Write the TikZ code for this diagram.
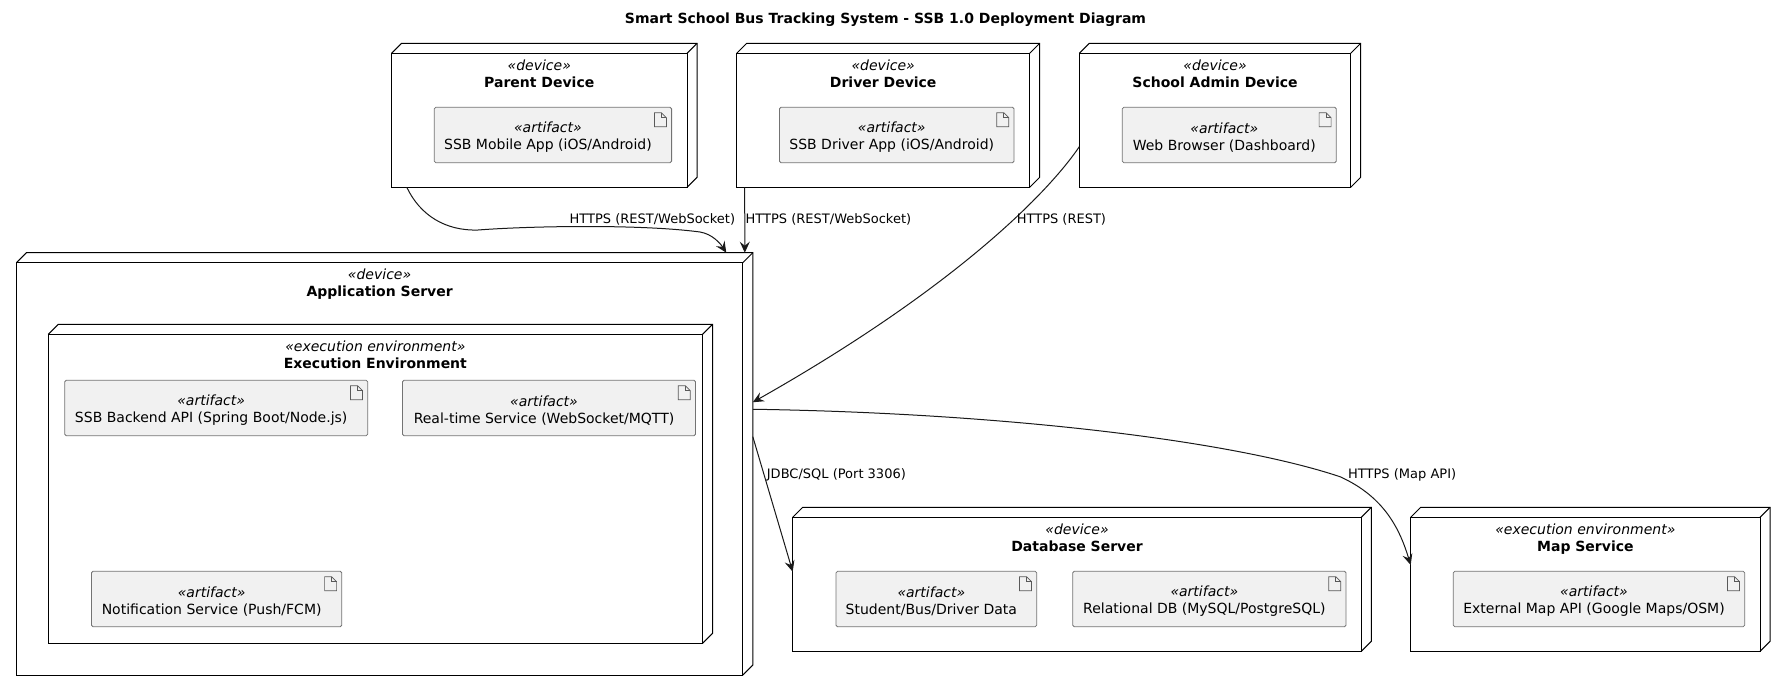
\documentclass[tikz,border=0pt]{standalone}
\usepackage{fontspec}
\setmainfont{DejaVu Sans}
\usetikzlibrary{arrows.meta}
\tikzset{
  x=1pt,y=-1pt,
  textfont/.style={font=\fontsize{14}{17}\selectfont,text=black},
  nodebox/.style={draw=black,line width=1pt,anchor=north west,inner sep=0pt,outer sep=0pt},
  boxtitle/.style={textfont,align=center,anchor=north,inner sep=0pt,yshift=-6pt},
  artifactbox/.style={draw=black!55,line width=0.8pt,fill=artifactgray,rounded corners=1.5pt,
    anchor=north west,inner sep=0pt,outer sep=0pt,minimum height=55.4pt},
  artifacttext/.style={textfont,align=center,inner sep=0pt,xshift=-5pt,yshift=-2.5pt},
  linktext/.style={font=\fontsize{13}{16}\selectfont,text=black,anchor=west,inner sep=0pt},
  link/.style={line width=1pt,draw=black!90,-{Stealth[length=11pt,width=10pt,inset=4pt]}}
}
\definecolor{artifactgray}{HTML}{F1F1F1}
\begin{document}
\begin{tikzpicture}
\useasboundingbox (0,0) rectangle (1785,691);
\node (title) [font=\fontsize{14}{17}\selectfont\bfseries,inner sep=0pt] at (885.5,20) {Smart School Bus Tracking System - SSB 1.0 Deployment Diagram};
% devices on top
\node (parent) [nodebox,minimum width=295.5pt,minimum height=134pt,label={[boxtitle]north:{\textit{«device»}\\\textbf{Parent Device}}}] at (391.5,53.3) {};
\node (driver) [nodebox,minimum width=293pt,minimum height=134pt,label={[boxtitle]north:{\textit{«device»}\\\textbf{Driver Device}}}] at (736.7,53.3) {};
\node (admin) [nodebox,minimum width=271.4pt,minimum height=134pt,label={[boxtitle]north:{\textit{«device»}\\\textbf{School Admin Device}}}] at (1079.3,53.3) {};
\node (mobileapp) [artifactbox,minimum width=237.3pt,label={[artifacttext]center:{\textit{«artifact»}\\SSB Mobile App (iOS/Android)}}] at (434.3,107.3) {};
\node (driverapp) [artifactbox,minimum width=234.5pt,label={[artifacttext]center:{\textit{«artifact»}\\SSB Driver App (iOS/Android)}}] at (779.5,107.3) {};
\node (browser) [artifactbox,minimum width=214pt,label={[artifacttext]center:{\textit{«artifact»}\\Web Browser (Dashboard)}}] at (1122.3,107.3) {};
% application server
\node (appserver) [nodebox,minimum width=726.4pt,minimum height=412.3pt,label={[boxtitle]north:{\textit{«device»}\\\textbf{Application Server}}}] at (16.4,262.7) {};
\node (execenv) [nodebox,minimum width=654.2pt,minimum height=309pt,label={[boxtitle]north:{\textit{«execution environment»}\\\textbf{Execution Environment}}}] at (48.3,334.3) {};
\node (backend) [artifactbox,minimum width=303pt,label={[artifacttext]center:{\textit{«artifact»}\\SSB Backend API (Spring Boot/Node.js)}}] at (64.7,380.3) {};
\node (realtime) [artifactbox,minimum width=293pt,label={[artifacttext]center:{\textit{«artifact»}\\Real-time Service (WebSocket/MQTT)}}] at (402.5,380.3) {};
\node (notify) [artifactbox,minimum width=250.3pt,label={[artifacttext]center:{\textit{«artifact»}\\Notification Service (Push/FCM)}}] at (91.5,571.3) {};
% database and map
\node (database) [nodebox,minimum width=568.6pt,minimum height=134pt,label={[boxtitle]north:{\textit{«device»}\\\textbf{Database Server}}}] at (792.7,517.3) {};
\node (mapservice) [nodebox,minimum width=349.3pt,minimum height=134pt,label={[boxtitle]north:{\textit{«execution environment»}\\\textbf{Map Service}}}] at (1410.7,517.3) {};
\node (studentdata) [artifactbox,minimum width=200.7pt,label={[artifacttext]center:{\textit{«artifact»}\\Student/Bus/Driver Data}}] at (836,571.3) {};
\node (relational) [artifactbox,minimum width=273.3pt,label={[artifacttext]center:{\textit{«artifact»}\\Relational DB (MySQL/PostgreSQL)}}] at (1072.7,571.3) {};
\node (mapapi) [artifactbox,minimum width=291.4pt,label={[artifacttext]center:{\textit{«artifact»}\\External Map API (Google Maps/OSM)}}] at (1453.3,571.3) {};
% depth of the boxes
\foreach \n in {parent,driver,admin,appserver,execenv,database,mapservice} {
  \draw[line width=1pt] (\n.north west) -- ++(10,-10) -- ([shift={(10,-10)}]\n.north east) -- ([shift={(10,-10)}]\n.south east) -- (\n.south east);
  \draw[line width=1pt] (\n.north east) -- ++(10,-10);
}
% file icons
\foreach \n in {mobileapp,driverapp,browser,backend,realtime,notify,studentdata,relational,mapapi} {
  \draw[draw=black!65,line width=0.7pt] ([shift={(-17.2,5.4)}]\n.north east) -- ++(7,0) -- ++(5,5) -- ++(0,9) -- ++(-12,0) -- cycle;
  \draw[draw=black!65,line width=0.7pt] ([shift={(-10.2,5.4)}]\n.north east) -- ++(0,5) -- ++(5,0);
}
% connectors
\draw[link] ([xshift=15.3pt]parent.south west) .. controls (420,215) and (445,231) .. (478,230) .. controls (530,226) and (640,224) .. (700,232) .. controls (712,234) and (720,243) .. ([xshift=-16.5pt,yshift=10pt]appserver.north east);
\draw[link] ([xshift=8pt]driver.south west) -- ([xshift=2pt,yshift=10pt]appserver.north east);
\draw[link] ([yshift=40.6pt]admin.south west) .. controls (1050,190) and (960,285) .. ([xshift=10pt,yshift=66.6pt]appserver.east);
\draw[link] ([xshift=10pt,yshift=59.6pt]appserver.east) .. controls (1000,413) and (1230,440) .. (1340,476.7) .. controls (1385,497) and (1400,530) .. ([yshift=19.3pt]mapservice.west);
\draw[link] ([xshift=10pt,yshift=32.2pt]appserver.east) -- ([yshift=12.6pt]database.west);
% connector labels
\node (parentlink) [linktext] at (569.4,219.7) {HTTPS (REST/WebSocket)};
\node (driverlink) [linktext] at (745.5,219.7) {HTTPS (REST/WebSocket)};
\node (adminlink) [linktext] at (1016.6,219.7) {HTTPS (REST)};
\node (dblink) [linktext] at (766.7,475) {JDBC/SQL (Port 3306)};
\node (maplink) [linktext] at (1348,475) {HTTPS (Map API)};
\end{tikzpicture}
\end{document}
